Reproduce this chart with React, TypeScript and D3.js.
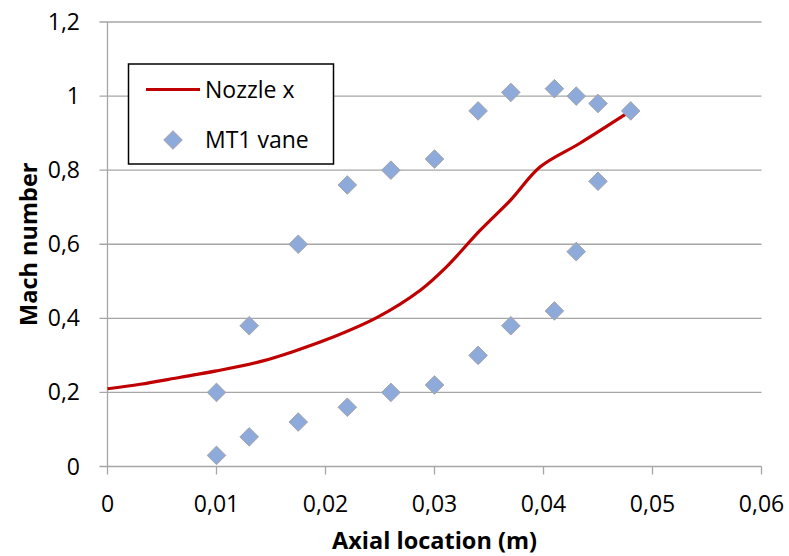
import React, { useEffect } from "react";
import * as d3 from "d3";

// axis ticks
const xTicks = [0, 0.01, 0.02, 0.03, 0.04, 0.05, 0.06];
const yTicks = [0, 0.2, 0.4, 0.6, 0.8, 1.0, 1.2];

// Nozzle x (line)
const nozzleX = [0, 0.003, 0.0067, 0.01, 0.014, 0.017, 0.0204, 0.0247, 0.0287, 0.0311, 0.0342, 0.037, 0.0397, 0.0433, 0.048];
const nozzleMach = [0.21, 0.222, 0.241, 0.258, 0.283, 0.31, 0.346, 0.402, 0.476, 0.539, 0.638, 0.72, 0.809, 0.872, 0.96];

// MT1 vane (markers)
const vaneX = [0.01, 0.01, 0.013, 0.013, 0.0175, 0.0175, 0.022, 0.022, 0.026, 0.026, 0.03, 0.03, 0.034, 0.034, 0.037, 0.037, 0.041, 0.041, 0.043, 0.043, 0.045, 0.045, 0.048];
const vaneMach = [0.03, 0.2, 0.08, 0.38, 0.12, 0.6, 0.16, 0.76, 0.2, 0.8, 0.22, 0.83, 0.3, 0.96, 0.38, 1.01, 0.42, 1.02, 0.58, 1.0, 0.77, 0.98, 0.96];

const W = 789;
const H = 556;
const margin = { top: 22, right: 27.5, bottom: 89.5, left: 107.5 };
const font = "'Open Sans', Lato, sans-serif";
const fmt = (v: number) => (v === 0 ? "0" : String(+v.toFixed(2)).replace(".", ","));

export default function App() {
  useEffect(() => {
    document.body.style.margin = "0";
  }, []);

  const x = d3.scaleLinear().domain([0, 0.06]).range([margin.left, W - margin.right]);
  const y = d3.scaleLinear().domain([0, 1.2]).range([H - margin.bottom, margin.top]);

  const line = d3
    .line<number>()
    .x((_, i) => x(nozzleX[i]))
    .y((d) => y(d))
    .curve(d3.curveCatmullRom.alpha(0.5));

  const r = 9.3;
  const diamond = (cx: number, cy: number) =>
    `M${cx},${cy - r}L${cx + r},${cy}L${cx},${cy + r}L${cx - r},${cy}Z`;

  const x0 = x(0);
  const y0 = y(0);
  const grey = "#a6a6a6";

  return (
    <svg width={W} height={H} style={{ display: "block", background: "#fff" }}>
      {/* horizontal gridlines */}
      {yTicks.map((t) => (
        <g key={"y" + t}>
          <line x1={x0 - 8} x2={x(0.06)} y1={y(t)} y2={y(t)} stroke={grey} strokeWidth={1.3} />
          <text x={80} y={y(t)} dy="0.35em" textAnchor="end" fontFamily={font} fontSize={23} fill="#000">
            {fmt(t)}
          </text>
        </g>
      ))}
      {/* y axis line */}
      <line x1={x0} x2={x0} y1={y(1.2)} y2={y0} stroke={grey} strokeWidth={1.3} />
      {/* x ticks */}
      {xTicks.map((t) => (
        <g key={"x" + t}>
          <line x1={x(t)} x2={x(t)} y1={y0} y2={y0 + 8} stroke={grey} strokeWidth={1.3} />
          <text x={x(t)} y={y0 + 45} textAnchor="middle" fontFamily={font} fontSize={23} fill="#000">
            {fmt(t)}
          </text>
        </g>
      ))}

      {/* Nozzle x line */}
      <path d={line(nozzleMach) || ""} fill="none" stroke="#c00000" strokeWidth={3.2} strokeLinejoin="round" />

      {/* MT1 vane markers */}
      {vaneMach.map((m, i) => (
        <path key={"v" + i} d={diamond(x(vaneX[i]), y(m))} fill="#8eaadb" stroke="#a5a5a5" strokeWidth={1} />
      ))}

      {/* legend */}
      <rect x={128.5} y={64} width={205} height={100} fill="#fff" stroke="#000" strokeWidth={1.5} />
      <line x1={146} x2={200} y1={89.5} y2={89.5} stroke="#c00000" strokeWidth={3.2} />
      <text x={205} y={89.5} dy="0.35em" fontFamily={font} fontSize={23} fill="#000">
        Nozzle x
      </text>
      <path d={diamond(173, 140)} fill="#8eaadb" stroke="#a5a5a5" strokeWidth={1} />
      <text x={205} y={140} dy="0.35em" fontFamily={font} fontSize={23} fill="#000">
        MT1 vane
      </text>

      {/* axis titles */}
      <text
        x={(x(0) + x(0.06)) / 2}
        y={549}
        textAnchor="middle"
        fontFamily={font}
        fontSize={23.5}
        fontWeight="bold"
        fill="#000"
      >
        Axial location (m)
      </text>
      <text
        transform={`translate(37,${(y(0) + y(1.2)) / 2}) rotate(-90)`}
        textAnchor="middle"
        fontFamily={font}
        fontSize={23.5}
        fontWeight="bold"
        fill="#000"
      >
        Mach number
      </text>
    </svg>
  );
}
